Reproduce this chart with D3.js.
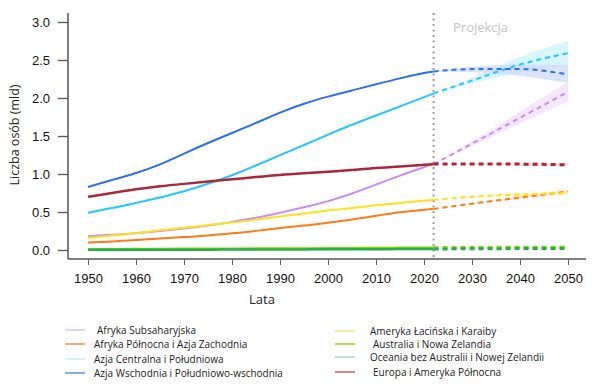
<!DOCTYPE html>
<html>
<head>
<meta charset="utf-8">
<script src="https://cdn.jsdelivr.net/npm/d3@7"></script>
<style>
  body { margin: 0; background: #fff; }
  svg text { font-family: "Open Sans", sans-serif; }
</style>
</head>
<body>
<div id="chart"></div>
<script>
// historical data (bln)
const histYears = [1950, 1955, 1960, 1965, 1970, 1975, 1980, 1985, 1990, 1995, 2000, 2005, 2010, 2015, 2020, 2022]
const projYears = [2022, 2030, 2040, 2050]

const regions = [
  'Afryka Subsaharyjska',
  'Afryka Północna i Azja Zachodnia',
  'Azja Centralna i Południowa',
  'Azja Wschodnia i Południowo-wschodnia',
  'Ameryka Łacińska i Karaiby',
  'Australia i Nowa Zelandia',
  'Oceania bez Australii i Nowej Zelandii',
  'Europa i Ameryka Północna'
]

const histValues = [
  [0.18, 0.20, 0.22, 0.25, 0.28, 0.32, 0.37, 0.42, 0.49, 0.56, 0.64, 0.74, 0.86, 0.98, 1.09, 1.13],
  [0.10, 0.11, 0.13, 0.15, 0.17, 0.19, 0.22, 0.25, 0.29, 0.32, 0.36, 0.40, 0.45, 0.50, 0.53, 0.54],
  [0.49, 0.55, 0.62, 0.69, 0.77, 0.87, 0.98, 1.11, 1.25, 1.38, 1.52, 1.65, 1.77, 1.89, 2.01, 2.06],
  [0.83, 0.92, 1.01, 1.12, 1.27, 1.41, 1.54, 1.67, 1.81, 1.93, 2.02, 2.10, 2.18, 2.26, 2.33, 2.35],
  [0.16, 0.19, 0.22, 0.26, 0.29, 0.33, 0.36, 0.40, 0.44, 0.48, 0.52, 0.55, 0.59, 0.62, 0.65, 0.66],
  [0.010, 0.011, 0.012, 0.014, 0.015, 0.016, 0.017, 0.018, 0.020, 0.021, 0.022, 0.024, 0.026, 0.028, 0.030, 0.031],
  [0.002, 0.003, 0.003, 0.004, 0.004, 0.005, 0.005, 0.006, 0.007, 0.008, 0.009, 0.010, 0.011, 0.012, 0.013, 0.014],
  [0.70, 0.75, 0.80, 0.84, 0.87, 0.90, 0.93, 0.96, 0.99, 1.01, 1.03, 1.05, 1.08, 1.10, 1.12, 1.13]
]

// projection: median, lower and upper bound
const projMedian = [
  [1.13, 1.40, 1.74, 2.08],
  [0.54, 0.61, 0.69, 0.77],
  [2.06, 2.23, 2.44, 2.59],
  [2.35, 2.38, 2.38, 2.31],
  [0.66, 0.70, 0.73, 0.75],
  [0.031, 0.033, 0.036, 0.038],
  [0.014, 0.016, 0.019, 0.021],
  [1.13, 1.13, 1.13, 1.12]
]
const projLow = [
  [1.13, 1.37, 1.66, 1.96],
  [0.54, 0.60, 0.67, 0.74],
  [2.06, 2.19, 2.34, 2.43],
  [2.35, 2.34, 2.29, 2.20],
  [0.66, 0.69, 0.71, 0.72],
  [0.031, 0.032, 0.034, 0.035],
  [0.014, 0.015, 0.017, 0.019],
  [1.13, 1.12, 1.11, 1.10]
]
const projHigh = [
  [1.13, 1.43, 1.82, 2.21],
  [0.54, 0.62, 0.71, 0.80],
  [2.06, 2.27, 2.54, 2.75],
  [2.35, 2.41, 2.44, 2.43],
  [0.66, 0.71, 0.75, 0.78],
  [0.031, 0.034, 0.038, 0.041],
  [0.014, 0.017, 0.021, 0.023],
  [1.13, 1.14, 1.15, 1.14]
]

const xTicks = [1950, 1960, 1970, 1980, 1990, 2000, 2010, 2020, 2030, 2040, 2050]
const yTicks = [0, 0.5, 1, 1.5, 2, 2.5, 3]

const lineColors = ['#c98af5', '#ff7a14', '#20c8ff', '#2d6ff0', '#ffe01a', '#86d800', '#22b04a', '#a8283a']
const bandColors = ['#f1defc', '#ffe2c6', '#c8f1ff', '#cbd9ff', '#fff3b8', '#e0f8c0', '#d0f0d8', '#f2d6db']
const swatchColors = ['#dcc0f5', '#f58a40', '#c0eef8', '#5a8ef0', '#f8e080', '#8ee000', '#a8dcc0', '#d85868']

const width = 605
const height = 389

const svg = d3.select('#chart')
  .append('svg')
  .attr('width', width)
  .attr('height', height)

const x = d3.scaleLinear().domain([1950, 2050]).range([88, 568])
const y = d3.scaleLinear().domain([0, 3]).range([250, 22])

// bands
const area = d3.area()
  .x(d => x(d.year))
  .y0(d => y(d.lo))
  .y1(d => y(d.hi))
  .curve(d3.curveMonotoneX)

regions.forEach((r, i) => {
  const pts = projYears.map((yr, j) => ({ year: yr, lo: projLow[i][j], hi: projHigh[i][j] }))
  svg.append('path')
    .datum(pts)
    .attr('d', area)
    .attr('fill', bandColors[i])
    .attr('fill-opacity', 0.75)
})

// projection line
svg.append('line')
  .attr('x1', x(2022)).attr('x2', x(2022))
  .attr('y1', 13).attr('y2', 260)
  .attr('stroke', '#999')
  .attr('stroke-width', 2)
  .attr('stroke-dasharray', '2,3.5')

svg.append('text')
  .attr('x', 453)
  .attr('y', 32)
  .attr('font-size', 13)
  .attr('fill', '#c4c4c4')
  .text('Projekcja')

const line = d3.line()
  .x(d => x(d[0]))
  .y(d => y(d[1]))
  .curve(d3.curveBasis)

regions.forEach((r, i) => {
  svg.append('path')
    .datum(histYears.map((yr, j) => [yr, histValues[i][j]]))
    .attr('d', line)
    .attr('fill', 'none')
    .attr('stroke', lineColors[i])
    .attr('stroke-width', i >= 5 ? 2.5 : 2)

  svg.append('path')
    .datum(projYears.map((yr, j) => [yr, projMedian[i][j]]))
    .attr('d', line.curve(d3.curveMonotoneX))
    .attr('fill', 'none')
    .attr('stroke', lineColors[i])
    .attr('stroke-width', i >= 5 ? 3 : 2)
    .attr('stroke-dasharray', '5,4')
  line.curve(d3.curveBasis)
})

// axes
const xAxis = svg.append('g')
  .attr('transform', 'translate(0,259)')
  .call(d3.axisBottom(x).tickValues(xTicks).tickFormat(d3.format('d')).tickSize(6).tickPadding(9))
xAxis.select('.domain').remove()
xAxis.selectAll('.tick line').attr('stroke', '#666')

const yAxis = svg.append('g')
  .attr('transform', 'translate(68,0)')
  .call(d3.axisLeft(y).tickValues(yTicks).tickFormat(d3.format('.1f')).tickSize(10).tickPadding(8))
yAxis.select('.domain').remove()
yAxis.selectAll('.tick line').attr('stroke', '#555').attr('stroke-width', 1.3)

svg.selectAll('.tick text')
  .style('font-family', '"Liberation Sans", Arial, sans-serif')
  .style('font-size', '13px')
  .style('fill', '#111')

svg.append('line')
  .attr('x1', 68).attr('x2', 68).attr('y1', 13).attr('y2', 259)
  .attr('stroke', '#555').attr('stroke-width', 1.5)
svg.append('line')
  .attr('x1', 68).attr('x2', 586).attr('y1', 259).attr('y2', 259)
  .attr('stroke', '#555').attr('stroke-width', 1.5)

svg.append('text')
  .attr('x', 262)
  .attr('y', 304)
  .attr('text-anchor', 'middle')
  .attr('font-size', 13)
  .attr('fill', '#222')
  .text('Lata')

svg.append('text')
  .attr('transform', 'translate(19,135) rotate(-90)')
  .attr('text-anchor', 'middle')
  .attr('font-size', 12.5)
  .attr('fill', '#222')
  .text('Liczba osób (mld)')

// legend
const legendPos = [
  [65, 97, 330], [65, 94, 344], [65, 94, 359], [65, 94, 373],
  [335, 370, 331], [335, 373, 344], [335, 370, 357], [335, 373, 372]
]
const legend = svg.append('g')
regions.forEach((r, i) => {
  const p = legendPos[i]
  legend.append('line')
    .attr('x1', p[0]).attr('x2', p[0] + 20)
    .attr('y1', p[2]).attr('y2', p[2])
    .attr('stroke', swatchColors[i])
    .attr('stroke-width', 1.5)
  legend.append('text')
    .attr('x', p[1])
    .attr('y', p[2] + 3.5)
    .attr('font-size', 10)
    .attr('fill', '#222')
    .text(r)
})
</script>
</body>
</html>
